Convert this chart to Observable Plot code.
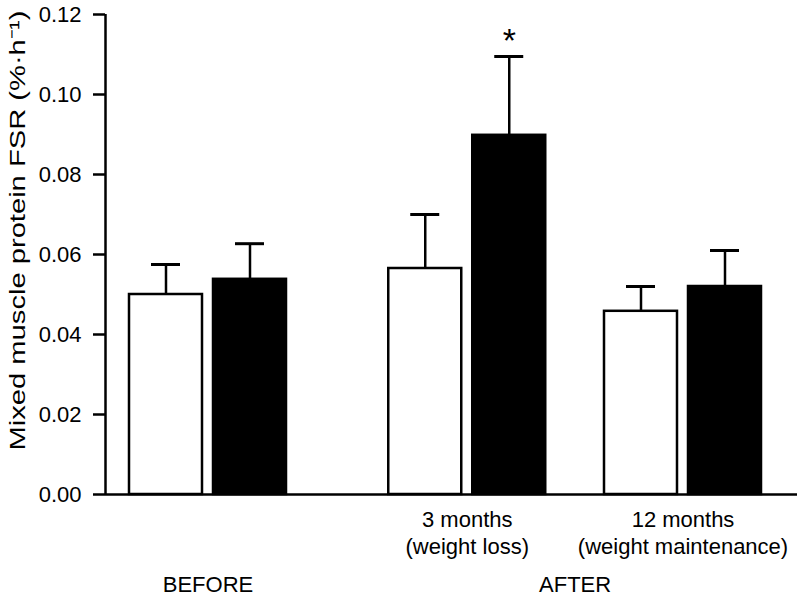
<!DOCTYPE html>
<html>
<head>
<meta charset="utf-8">
<script src="https://cdn.jsdelivr.net/npm/d3@7"></script>
<script src="https://cdn.jsdelivr.net/npm/@observablehq/plot@0.6"></script>
<style>
  html, body { margin: 0; padding: 0; background: #fff; }
  #chart svg { display: block; }
</style>
</head>
<body>
<div id="chart"></div>
<script>
// ---- data ----
const groups = ["BEFORE", "3 months", "12 months"];
const groupLabels = ["", "3 months\n(weight loss)", "12 months\n(weight maintenance)"];
const phaseLabels = ["BEFORE", "AFTER"];
const phaseGroups = [["BEFORE"], ["3 months", "12 months"]];
const openMean = [0.0500, 0.0565, 0.0458];
const openSE = [0.0075, 0.0135, 0.0062];
const filledMean = [0.0538, 0.0898, 0.0520];
const filledSE = [0.0089, 0.0197, 0.0090];
const filledMarks = ["", "*", ""];
const yTicks = [0, 0.02, 0.04, 0.06, 0.08, 0.10, 0.12];
const yLabel = "Mixed muscle protein FSR (%\u00B7h\u207B\u00B9)";

// ---- layout (x scale in plot units) ----
const groupCenter = {"BEFORE": 102.5, "3 months": 361.75, "12 months": 577.5};
const pairOffset = 42;
const barHalf = 36.5;
const capHalf = 14.5;

const rows = groups.flatMap((g, i) => [
  {group: g, series: "open", mean: openMean[i], se: openSE[i], mark: "", xc: groupCenter[g] - pairOffset},
  {group: g, series: "filled", mean: filledMean[i], se: filledSE[i], mark: filledMarks[i], xc: groupCenter[g] + pairOffset}
]);
const catRows = groups.map((g, i) => ({label: groupLabels[i], xc: groupCenter[g]}));
const phaseRows = phaseLabels.map((p, i) => ({label: p, xc: d3.mean(phaseGroups[i], g => groupCenter[g])}));

const font = "'Liberation Sans', Arial, Helvetica, sans-serif";
const lw = 2.5;

const chart = Plot.plot({
  width: 800,
  height: 598,
  marginLeft: 105,
  marginRight: 3,
  marginTop: 14,
  marginBottom: 104,
  style: {fontFamily: font, background: "white", color: "black", overflow: "visible"},
  x: {type: "linear", domain: [0, 692], axis: null},
  y: {domain: [0, 0.12], axis: null},
  marks: [
    // y axis
    Plot.axisY({ticks: yTicks, tickFormat: d3.format(".2f"), tickSize: 12, tickPadding: 12, fontSize: 22, strokeWidth: lw, stroke: "black", label: null}),
    Plot.ruleX([0], {y1: 0, y2: 0.12, stroke: "black", strokeWidth: lw}),
    // error stems & caps
    Plot.ruleX(rows, {x: "xc", y1: "mean", y2: d => d.mean + d.se, stroke: "black", strokeWidth: lw}),
    Plot.ruleY(rows, {y: d => d.mean + d.se, x1: d => d.xc - capHalf, x2: d => d.xc + capHalf, stroke: "black", strokeWidth: 3}),
    // bars
    Plot.rect(rows, {x1: d => d.xc - barHalf, x2: d => d.xc + barHalf, y1: 0, y2: "mean",
      fill: d => d.series === "open" ? "white" : "black", stroke: "black", strokeWidth: lw}),
    // x axis baseline
    Plot.ruleY([0], {stroke: "black", strokeWidth: lw}),
    // significance mark
    Plot.text(rows.filter(d => d.mark), {x: "xc", y: d => d.mean + d.se, text: "mark", dy: -5, fontSize: 34, lineAnchor: "bottom", fill: "black"}),
    // category labels
    Plot.text(catRows, {x: "xc", y: 0, text: "label", dy: 13, lineAnchor: "top", fontSize: 22, lineHeight: 1.23, fill: "black"}),
    // phase labels
    Plot.text(phaseRows, {x: "xc", y: 0, text: "label", dy: 82, lineAnchor: "top", fontSize: 22, fill: "black"}),
    // y label
    Plot.text([yLabel], {frameAnchor: "left", dx: -88, dy: -24, rotate: -90, textAnchor: "middle", fontSize: 22, fill: "black", className: "ylabel"})
  ]
});
// stretch y label along its length to match the reference
d3.select(chart).selectAll(".ylabel text").attr("textLength", 440).attr("lengthAdjust", "spacingAndGlyphs");
document.getElementById("chart").appendChild(chart);
</script>
</body>
</html>
